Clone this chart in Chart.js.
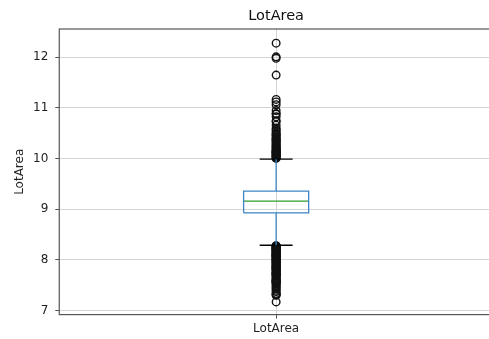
<!DOCTYPE html>
<html>
<head>
<meta charset="utf-8">
<script src="https://cdn.jsdelivr.net/npm/chart.js@4.4.1/dist/chart.umd.min.js"></script>
<style>
    html, body { margin: 0; padding: 0; background: #fff; overflow: hidden; }
    #wrap { width: 500px; height: 339px; }
</style>
</head>
<body>
<div id="wrap"><canvas id="boxChart" width="500" height="339"></canvas></div>
<script>
// log(LotArea) summary
const categories = ['LotArea'];
const chartTitle = 'LotArea';
const quartiles = [8.93, 9.16, 9.36];      // q1, median, q3
const whiskers = [8.29, 9.99];             // low, high
const outliersLow = [
    7.17, 7.30, 7.31, 7.33, 7.335, 7.375, 7.40, 7.43, 7.45, 7.48, 7.50, 7.53,
    7.54, 7.56, 7.57, 7.575, 7.577, 7.588, 7.60, 7.609, 7.62, 7.64, 7.658,
    7.678, 7.69, 7.70, 7.715, 7.727, 7.732, 7.736, 7.744, 7.755, 7.77, 7.785,
    7.803, 7.815, 7.824, 7.833, 7.842, 7.852, 7.86, 7.874, 7.88, 7.888, 7.90,
    7.915, 7.93, 7.945, 7.955, 7.965, 7.968, 7.98, 7.996, 8.006, 8.01, 8.02,
    8.03, 8.04, 8.051, 8.065, 8.07, 8.08, 8.083, 8.09, 8.094, 8.102, 8.11,
    8.12, 8.125, 8.14, 8.15, 8.16, 8.165, 8.175, 8.189, 8.198, 8.208, 8.212,
    8.215, 8.219, 8.232, 8.234, 8.247, 8.254, 8.264, 8.269, 8.274, 8.281
];
const outliersHigh = [
    10.005, 10.018, 10.03, 10.041, 10.054, 10.069, 10.075, 10.09, 10.10,
    10.114, 10.127, 10.13, 10.138, 10.143, 10.16, 10.173, 10.19, 10.21,
    10.227, 10.245, 10.265, 10.285, 10.31, 10.33, 10.35, 10.366, 10.388,
    10.394, 10.42, 10.453, 10.467, 10.485, 10.505, 10.54, 10.57, 10.6, 10.66,
    10.73, 10.75, 10.825, 10.88, 10.89, 10.95, 11.065, 11.12, 11.17, 11.65,
    11.98, 12.01, 12.28
];
const yTicks = [7, 8, 9, 10, 11, 12];

const colors = {
    box: '#3d85c6',
    median: '#2ca02c',
    cap: '#000000',
    flier: '#111111',
    grid: '#d4d4d4',
    frame: '#555555',
    text: '#222222'
};

// box geometry (x units, axis runs 0.5 .. 1.5)
const pos = 1;
const boxHalf = 0.075;
const capHalf = 0.038;

const [q1, med, q3] = quartiles;
const [wLo, wHi] = whiskers;

function seg(x0, y0, x1, y1) {
    return [{ x: x0, y: y0 }, { x: x1, y: y1 }];
}

function lineSet(data, color) {
    return {
        type: 'line',
        data: data,
        borderColor: color,
        borderWidth: 1.3,
        pointRadius: 0,
        fill: false,
        tension: 0
    };
}

// axes frame + title centred over the plot area (matplotlib style)
const framePlugin = {
    id: 'frame',
    afterDatasetsDraw(chart) {
        const { ctx, chartArea: a } = chart;
        ctx.save();
        ctx.strokeStyle = colors.frame;
        ctx.lineWidth = 1.2;
        ctx.strokeRect(a.left, a.top, a.right - a.left, a.bottom - a.top);
        ctx.fillStyle = '#111';
        ctx.font = '14.5px "DejaVu Sans"';
        ctx.textAlign = 'center';
        ctx.textBaseline = 'middle';
        ctx.fillText(chartTitle, (a.left + a.right) / 2, a.top - 13);
        ctx.restore();
    }
};

new Chart(document.getElementById('boxChart'), {
    type: 'scatter',
    data: {
        datasets: [
            lineSet([
                { x: pos - boxHalf, y: q1 }, { x: pos + boxHalf, y: q1 },
                { x: pos + boxHalf, y: q3 }, { x: pos - boxHalf, y: q3 },
                { x: pos - boxHalf, y: q1 }
            ], colors.box),
            lineSet(seg(pos - boxHalf, med, pos + boxHalf, med), colors.median),
            lineSet(seg(pos, q3, pos, wHi), colors.box),
            lineSet(seg(pos, q1, pos, wLo), colors.box),
            lineSet(seg(pos - capHalf, wHi, pos + capHalf, wHi), colors.cap),
            lineSet(seg(pos - capHalf, wLo, pos + capHalf, wLo), colors.cap),
            {
                data: outliersLow.concat(outliersHigh).map(v => ({ x: pos, y: v })),
                pointStyle: 'circle',
                pointRadius: 3.8,
                pointBorderWidth: 1.4,
                pointBorderColor: colors.flier,
                pointBackgroundColor: 'rgba(0,0,0,0)',
                showLine: false
            }
        ]
    },
    options: {
        responsive: false,
        animation: false,
        layout: { padding: { left: 14, right: 7, top: 29, bottom: 0 } },
        scales: {
            x: {
                type: 'linear',
                min: 0.5,
                max: 1.5,
                afterBuildTicks: axis => { axis.ticks = [{ value: pos }]; },
                ticks: {
                    callback: () => categories[0],
                    color: colors.text,
                    font: { family: 'DejaVu Sans', size: 12 },
                    padding: 3,
                    maxRotation: 0
                },
                grid: { color: colors.grid, tickColor: colors.frame, tickLength: 4 },
                border: { display: false }
            },
            y: {
                min: 6.92,
                max: 12.56,
                afterBuildTicks: axis => { axis.ticks = yTicks.map(v => ({ value: v })); },
                ticks: {
                    color: colors.text,
                    font: { family: 'DejaVu Sans', size: 12 },
                    padding: 7
                },
                title: {
                    display: true,
                    text: 'LotArea',
                    color: colors.text,
                    font: { family: 'DejaVu Sans', size: 12, lineHeight: 1 },
                    padding: { top: 0, bottom: 0 }
                },
                grid: { color: colors.grid, tickColor: colors.frame, tickLength: 4 },
                border: { display: false }
            }
        },
        plugins: {
            legend: { display: false },
            tooltip: { enabled: false },
            title: { display: false }
        }
    },
    plugins: [framePlugin]
});
</script>
</body>
</html>
